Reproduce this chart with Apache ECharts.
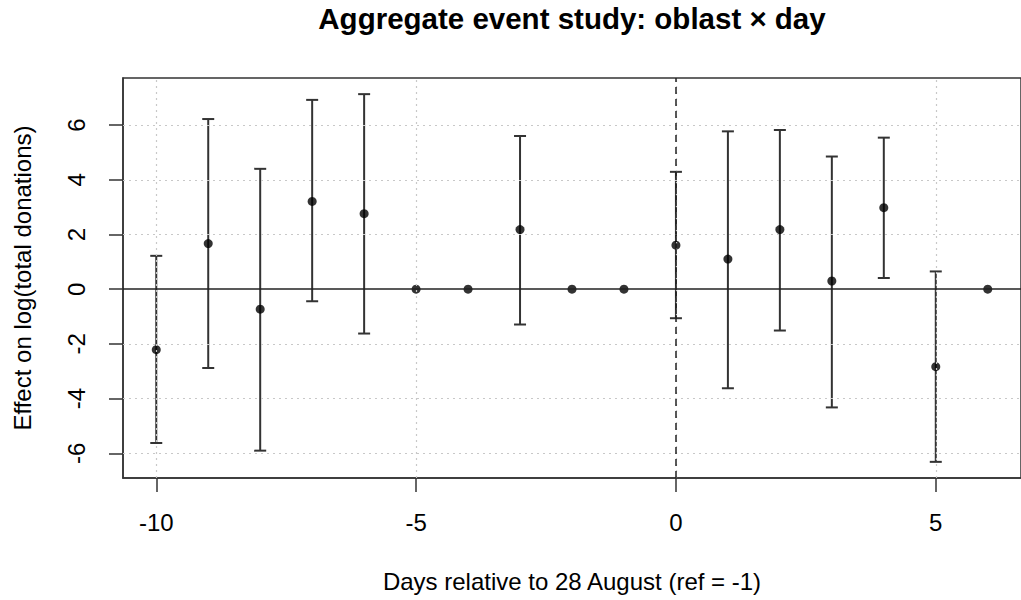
<!DOCTYPE html>
<html>
<head>
<meta charset="utf-8">
<script src="https://cdn.jsdelivr.net/npm/echarts@6/dist/echarts.min.js"></script>
<style>html,body{margin:0;padding:0;background:#fff}#c{width:1021px;height:600px}</style>
</head>
<body>
<div id="c"></div>
<script>
// ---- data ----
var days      = [-10, -9, -8, -7, -6, -5, -4, -3, -2, -1, 0, 1, 2, 3, 4, 5, 6];
var estimates = [-2.21, 1.67, -0.73, 3.21, 2.76, 0, 0, 2.18, 0, 0, 1.61, 1.10, 2.18, 0.30, 2.98, -2.83, 0];
var lower     = [-5.62, -2.88, -5.90, -0.44, -1.62, null, null, -1.29, null, null, -1.06, -3.62, -1.51, -4.32, 0.41, -6.31, null];
var upper     = [1.22, 6.22, 4.40, 6.92, 7.13, null, null, 5.60, null, null, 4.29, 5.77, 5.82, 4.85, 5.54, 0.65, null];
var xTicks    = [-10, -5, 0, 5];
var yTicks    = [-6, -4, -2, 0, 2, 4, 6];
var titleText = 'Aggregate event study: oblast \u00d7 day';
var xTitle    = 'Days relative to 28 August (ref = -1)';
var yTitle    = 'Effect on log(total donations)';

var FONT = '"Liberation Sans", Arial, sans-serif';
var chart = echarts.init(document.getElementById('c'), null, {renderer: 'svg'});

var points = days.map(function (d, i) { return [d, estimates[i]]; });
var bars = [];
days.forEach(function (d, i) {
  if (lower[i] !== null && upper[i] !== null) bars.push([d, lower[i], upper[i]]);
});

var gridMarks = [];
xTicks.forEach(function (v) { gridMarks.push({xAxis: v}); });
yTicks.forEach(function (v) { if (v !== 0) gridMarks.push({yAxis: v}); });

var option = {
  animation: false,
  backgroundColor: '#fff',
  grid: {left: 123, top: 78, width: 903, height: 400, show: true,
         borderColor: '#333', borderWidth: 1.5, backgroundColor: 'transparent'},
  graphic: [{
    type: 'text', x: 572, y: 18,
    style: {text: titleText, fill: '#000', font: 'bold 29.5px ' + FONT,
            textAlign: 'center', textVerticalAlign: 'middle'}
  }],
  xAxis: {
    type: 'value', min: -10.64, max: 6.64,
    name: xTitle, nameLocation: 'middle', nameGap: 91,
    nameTextStyle: {fontSize: 24, color: '#000', fontFamily: FONT},
    axisLine: {show: true, onZero: false, lineStyle: {color: '#333', width: 1.5}},
    axisTick: {show: true, length: 14, customValues: xTicks, lineStyle: {color: '#333', width: 1.5}},
    axisLabel: {customValues: xTicks, fontSize: 24, color: '#000', fontFamily: FONT, margin: 32},
    splitLine: {show: false}
  },
  yAxis: {
    type: 'value', min: -6.9, max: 7.72,
    name: yTitle, nameLocation: 'middle', nameGap: 89, nameRotate: 90,
    nameTextStyle: {fontSize: 24, color: '#000', fontFamily: FONT},
    axisLine: {show: true, onZero: false, lineStyle: {color: '#333', width: 1.5}},
    axisTick: {show: true, length: 14, customValues: yTicks, lineStyle: {color: '#333', width: 1.5}},
    axisLabel: {customValues: yTicks, rotate: 90, fontSize: 24, color: '#000', fontFamily: FONT, margin: 35},
    splitLine: {show: false}
  },
  series: [
    {
      type: 'line', data: [], silent: true, symbol: 'none',
      markLine: {
        silent: true, symbol: 'none', label: {show: false},
        lineStyle: {color: '#c8c8c8', type: [2, 4], width: 1.2},
        data: gridMarks
      }
    },
    {
      type: 'line', data: [], silent: true, symbol: 'none',
      markLine: {
        silent: true, symbol: 'none', label: {show: false},
        data: [
          {yAxis: 0, lineStyle: {color: '#222', type: 'solid', width: 1.5}},
          {xAxis: 0, lineStyle: {color: '#222', type: [7, 5], width: 1.5}}
        ]
      }
    },
    {
      type: 'custom', data: bars, silent: true,
      renderItem: function (params, api) {
        var x = api.value(0);
        var lo = api.coord([x, api.value(1)]);
        var hi = api.coord([x, api.value(2)]);
        var w = 6;
        var st = {stroke: '#333', lineWidth: 2};
        return {type: 'group', children: [
          {type: 'line', shape: {x1: lo[0], y1: lo[1], x2: hi[0], y2: hi[1]}, style: st},
          {type: 'line', shape: {x1: lo[0] - w, y1: lo[1], x2: lo[0] + w, y2: lo[1]}, style: st},
          {type: 'line', shape: {x1: hi[0] - w, y1: hi[1], x2: hi[0] + w, y2: hi[1]}, style: st}
        ]};
      },
      z: 3
    },
    {
      type: 'scatter', data: points, symbol: 'circle', symbolSize: 9,
      itemStyle: {color: '#000'}, z: 4
    }
  ]
};
chart.setOption(option);
</script>
</body>
</html>
